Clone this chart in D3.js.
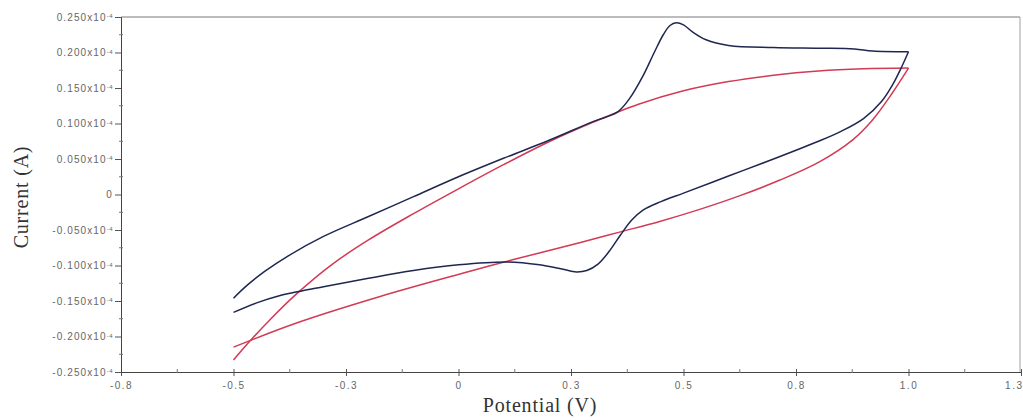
<!DOCTYPE html>
<html>
<head>
<meta charset="utf-8">
<script src="https://cdn.jsdelivr.net/npm/d3@7/dist/d3.min.js"></script>
<style>
  html, body { margin: 0; padding: 0; background: #fff; }
  svg { display: block; }
</style>
</head>
<body>
<svg id="chart" width="1023" height="420"></svg>
<script>
// Cyclic voltammograms: potential (V) vs current (in units of 10^-4 A)

// Curve with redox couple (dark blue) — forward sweep -0.5 V → 1.0 V
const bluePotentialForward = [-0.5, -0.47, -0.43, -0.38, -0.3, -0.2, -0.1, 0, 0.1, 0.2, 0.3, 0.353, 0.38, 0.41, 0.435, 0.455, 0.47, 0.484, 0.5, 0.52, 0.55, 0.6, 0.7, 0.8, 0.88, 0.92, 1.0];
const blueCurrentForward   = [-0.146, -0.128, -0.108, -0.087, -0.059, -0.031, -0.003, 0.025, 0.051, 0.076, 0.103, 0.116, 0.135, 0.167, 0.200, 0.225, 0.238, 0.242, 0.239, 0.229, 0.218, 0.210, 0.207, 0.206, 0.205, 0.202, 0.201];

// Dark blue — reverse sweep 1.0 V → -0.5 V
const bluePotentialReverse = [1.0, 0.985, 0.965, 0.94, 0.9, 0.85, 0.8, 0.7, 0.6, 0.5, 0.45, 0.41, 0.385, 0.36, 0.335, 0.31, 0.285, 0.262, 0.23, 0.18, 0.11, 0.0, -0.1, -0.2, -0.3, -0.4, -0.45, -0.5];
const blueCurrentReverse   = [0.201, 0.180, 0.155, 0.131, 0.107, 0.089, 0.075, 0.050, 0.026, 0.002, -0.010, -0.022, -0.036, -0.057, -0.080, -0.098, -0.107, -0.109, -0.105, -0.099, -0.095, -0.099, -0.107, -0.118, -0.130, -0.143, -0.153, -0.166];

// Blank electrode (red) — forward sweep
const redPotentialForward = [-0.5, -0.46, -0.42, -0.36, -0.28, -0.2, -0.1, 0, 0.1, 0.2, 0.3, 0.4, 0.5, 0.6, 0.7, 0.8, 0.9, 1.0];
const redCurrentForward   = [-0.233, -0.204, -0.177, -0.140, -0.098, -0.064, -0.027, 0.008, 0.042, 0.074, 0.102, 0.127, 0.146, 0.159, 0.168, 0.174, 0.177, 0.178];

// Red — reverse sweep
const redPotentialReverse = [1.0, 0.964, 0.92, 0.876, 0.802, 0.713, 0.624, 0.536, 0.447, 0.358, 0.269, 0.12, 0.009, -0.176, -0.36, -0.5];
const redCurrentReverse   = [0.178, 0.143, 0.105, 0.077, 0.046, 0.020, -0.002, -0.021, -0.038, -0.053, -0.068, -0.092, -0.111, -0.144, -0.181, -0.215];

// Axis ticks and their printed labels
const xTickValues = [-0.75, -0.5, -0.25, 0, 0.25, 0.5, 0.75, 1.0, 1.25];
const xTickLabels = ["-0.8", "-0.5", "-0.3", "0", "0.3", "0.5", "0.8", "1.0", "1.3"];
const yTickValues = [-0.25, -0.2, -0.15, -0.1, -0.05, 0, 0.05, 0.1, 0.15, 0.2, 0.25];
const yTickLabels = ["-0.250", "-0.200", "-0.150", "-0.100", "-0.050", "0", "0.050", "0.100", "0.150", "0.200", "0.250"];

const margin = { left: 121, right: 2, top: 17, bottom: 48 };
const W = 1023, H = 420;

const svg = d3.select("#chart");
const x = d3.scaleLinear().domain([-0.75, 1.25]).range([margin.left, W - margin.right]);
const y = d3.scaleLinear().domain([-0.25, 0.25]).range([H - margin.bottom, margin.top]);

const tickFont = "'Liberation Sans', Arial, sans-serif";
const titleFont = "'Liberation Serif', 'Times New Roman', serif";

// Plot frame: light top/right edges
svg.append("line").attr("x1", x(-0.75)).attr("x2", x(1.25) - 1).attr("y1", y(0.25)).attr("y2", y(0.25))
  .attr("stroke", "#7a7a7a").attr("stroke-width", 1);
svg.append("line").attr("x1", x(1.25) - 1).attr("x2", x(1.25) - 1).attr("y1", y(0.25)).attr("y2", y(-0.25))
  .attr("stroke", "#a0a0a0").attr("stroke-width", 1);

// X axis
const xAxis = d3.axisBottom(x).tickValues(xTickValues)
  .tickFormat((d, i) => xTickLabels[i]).tickSize(4).tickPadding(6);
const gx = svg.append("g").attr("transform", `translate(0,${y(-0.25)})`).call(xAxis);
gx.select(".domain").attr("stroke", "#444");
gx.selectAll(".tick line").attr("stroke", "#555").attr("y1", -3);
gx.selectAll(".tick text").attr("fill", "#666")
  .style("font-family", tickFont).style("font-size", "10px").style("letter-spacing", "1.5px");
// the last label sits at the right edge: keep it inside the page
gx.selectAll(".tick text").filter((d, i) => i === xTickValues.length - 1)
  .attr("text-anchor", "end").attr("x", 2);
// minor x ticks
const xMinor = d3.range(0, xTickValues.length - 1).map(i => (xTickValues[i] + xTickValues[i + 1]) / 2);
svg.append("g").selectAll("line").data(xMinor).join("line")
  .attr("x1", d => x(d)).attr("x2", d => x(d))
  .attr("y1", y(-0.25) - 3).attr("y2", y(-0.25) + 1)
  .attr("stroke", "#777");

// Y axis
const yAxis = d3.axisLeft(y).tickValues(yTickValues).tickFormat(() => "").tickSize(6);
const gy = svg.append("g").attr("transform", `translate(${x(-0.75)},0)`).call(yAxis);
gy.select(".domain").attr("stroke", "#444");
gy.selectAll(".tick line").attr("stroke", "#555");
// y tick labels with the ×10^-4 exponent
gy.selectAll(".tick").each(function (d, i) {
  const t = d3.select(this).select("text")
    .attr("x", -8).attr("dy", "0.32em")
    .attr("fill", "#666").style("font-family", tickFont).style("font-size", "10px")
    .style("letter-spacing", "1.1px")
    .text(null);
  if (yTickLabels[i] === "0") {
    t.text("0");
  } else {
    t.append("tspan").text(yTickLabels[i] + "x10");
    t.append("tspan").attr("dy", "-0.45em").style("font-size", "6px").style("letter-spacing", "0.5px").text("-4");
  }
});
// minor y ticks
const yMinor = d3.range(0, yTickValues.length - 1).map(i => (yTickValues[i] + yTickValues[i + 1]) / 2);
svg.append("g").selectAll("line").data(yMinor).join("line")
  .attr("x1", x(-0.75) - 2).attr("x2", x(-0.75) + 2)
  .attr("y1", d => y(d)).attr("y2", d => y(d))
  .attr("stroke", "#777");

// Axis titles
svg.append("text").attr("x", 540).attr("y", 412).attr("text-anchor", "middle")
  .style("font-family", titleFont).style("font-size", "20px").style("letter-spacing", "0.8px").attr("fill", "#333")
  .text("Potential (V)");
svg.append("text").attr("transform", "translate(28,197) rotate(-90)").attr("text-anchor", "middle")
  .style("font-family", titleFont).style("font-size", "20px").style("letter-spacing", "0.8px").attr("fill", "#333")
  .text("Current (A)");

// Curves
const line = d3.line().x(d => x(d[0])).y(d => y(d[1])).curve(d3.curveCatmullRom.alpha(0.5));
const zip = (a, b) => a.map((v, i) => [v, b[i]]);

const series = [
  { pts: zip(redPotentialForward, redCurrentForward), color: "#d23a55" },
  { pts: zip(redPotentialReverse, redCurrentReverse), color: "#d23a55" },
  { pts: zip(bluePotentialForward, blueCurrentForward), color: "#1f2750" },
  { pts: zip(bluePotentialReverse, blueCurrentReverse), color: "#1f2750" }
];
svg.append("g").selectAll("path").data(series).join("path")
  .attr("d", d => line(d.pts))
  .attr("fill", "none")
  .attr("stroke", d => d.color)
  .attr("stroke-width", 1.5)
  .attr("stroke-linejoin", "round");
</script>
</body>
</html>
